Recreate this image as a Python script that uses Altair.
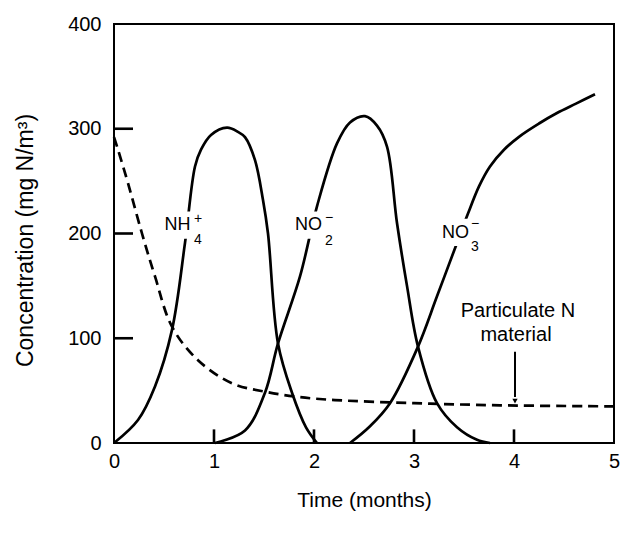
import altair as alt
import pandas as pd

# ---- data ----
nh4_t = [0, 0.24, 0.41, 0.58, 0.71, 0.81, 0.87, 0.97, 1.13, 1.24, 1.31, 1.41, 1.49, 1.54, 1.64, 1.78, 1.92, 2.03]
nh4_c = [0, 22, 54, 108, 191, 264, 280, 294, 301, 297, 292, 270, 232, 200, 95, 48, 15, 0]

no2_t = [1.01, 1.31, 1.51, 1.64, 1.86, 2.03, 2.23, 2.36, 2.51, 2.63, 2.73, 2.83, 2.93, 3.04, 3.23, 3.43, 3.63, 3.76]
no2_c = [0, 12, 48, 95, 159, 226, 286, 306, 312, 303, 283, 210, 150, 92, 38, 15, 3, 0]

no3_t = [2.36, 2.56, 2.76, 3.04, 3.23, 3.43, 3.54, 3.65, 3.76, 3.9, 4.06, 4.25, 4.43, 4.62, 4.81]
no3_c = [0, 16, 38, 92, 140, 191, 219, 245, 264, 280, 293, 305, 315, 324, 333]

part_t = [0.0, 0.04, 0.14, 0.28, 0.41, 0.58, 0.84, 1.18, 1.51, 1.84, 2.21, 3.0, 3.86, 5.0]
part_c = [292, 280, 248, 200, 159, 111, 79, 57, 49, 44, 41, 38, 36, 35]

x_ticks = [0, 1, 2, 3, 4, 5]
y_ticks = [0, 100, 200, 300, 400]
inner_x_ticks = [1, 2, 3, 4]
inner_y_ticks = [100, 200, 300]
x_tick_len = 0.19    # in months
y_tick_len = 13      # in mg N/m3

# species labels: main text, superscript, subscript
lab_text = ["NH", "NO", "NO"]
lab_t = [0.505, 1.81, 3.28]
lab_c = [203, 203, 196]
sup_text = ["+", "\u2212", "\u2212"]
sub_text = ["4", "2", "3"]
script_t = [0.80, 2.11, 3.57]
sup_c = [210, 211, 205]
sub_c = [190, 189, 183]

note_lines = ["Particulate N", "material"]
note_t = [4.04, 4.02]
note_c = [120, 97]
arrow_t = [4.01]
arrow_top = [87]
arrow_bottom = [44]
arrow_head = [40]

FONT = "Liberation Sans"

# inward tick marks as two-point segments
tick_rows = []
for v in inner_x_ticks:
    tick_rows += [{"t": float(v), "c": 0.5, "s": f"tx{v}", "w": 2.6},
                  {"t": float(v), "c": float(y_tick_len), "s": f"tx{v}", "w": 2.6}]
for v in inner_y_ticks:
    tick_rows += [{"t": 0.01, "c": float(v), "s": f"ty{v}", "w": 2.6},
                  {"t": x_tick_len, "c": float(v), "s": f"ty{v}", "w": 2.6}]

solid_df = pd.concat([
    pd.DataFrame({"t": nh4_t, "c": nh4_c, "s": "NH4", "w": 2.7}),
    pd.DataFrame({"t": no2_t, "c": no2_c, "s": "NO2", "w": 2.7}),
    pd.DataFrame({"t": no3_t, "c": no3_c, "s": "NO3", "w": 2.7}),
    pd.DataFrame(tick_rows),
], ignore_index=True)
part_df = pd.DataFrame({"t": part_t, "c": part_c})

xs = alt.Scale(domain=[0, 5], nice=False, zero=False)
ys = alt.Scale(domain=[0, 400], nice=False)

W, H = 500, 419

x_axis = alt.Axis(values=x_ticks, format="d", title="Time (months)", labelFontSize=20, labelPadding=8,
                  labelFlush=False, titleFontSize=21, titleFontWeight="normal", titleX=W / 2, titleY=57,
                  titleBaseline="middle", titleAlign="center")
y_axis = alt.Axis(values=y_ticks, format="d", title="Concentration (mg N/m\u00b3)", labelFontSize=20,
                  labelPadding=13, labelFlush=False, titleFontSize=23, titleFontWeight="normal",
                  titleX=-89, titleY=216, titleAngle=270, titleBaseline="middle", titleAlign="center")

solid = alt.Chart(solid_df).mark_line(color="black", interpolate="catmull-rom").encode(
    x=alt.X("t:Q", scale=xs, axis=x_axis),
    y=alt.Y("c:Q", scale=ys, axis=y_axis),
    detail="s:N",
    strokeWidth=alt.StrokeWidth("w:Q", scale=None, legend=None),
)

dashed = alt.Chart(part_df).mark_line(color="black", strokeWidth=2.7, strokeDash=[10, 6],
                                      interpolate="catmull-rom").encode(
    x=alt.X("t:Q", scale=xs), y=alt.Y("c:Q", scale=ys)
)

# white patches where the curves are broken by the labels
box_df = pd.DataFrame({
    "t0": [t - 0.01 for t in lab_t],
    "t1": [t + 0.07 for t in script_t],
    "c0": [c - 8 for c in lab_c],
    "c1": [c + 18 for c in lab_c],
})
boxes = alt.Chart(box_df).mark_rect(color="white").encode(
    x=alt.X("t0:Q", scale=xs), x2="t1:Q", y=alt.Y("c0:Q", scale=ys), y2="c1:Q"
)

lab_df = pd.DataFrame({"txt": lab_text, "t": lab_t, "c": lab_c})
labels = alt.Chart(lab_df).mark_text(font=FONT, fontSize=18, align="left", baseline="alphabetic",
                                     color="black").encode(
    x=alt.X("t:Q", scale=xs), y=alt.Y("c:Q", scale=ys), text="txt:N"
)
sup_df = pd.DataFrame({"txt": sup_text, "t": script_t, "c": sup_c})
sups = alt.Chart(sup_df).mark_text(font=FONT, fontSize=14, align="left", baseline="alphabetic",
                                   color="black").encode(
    x=alt.X("t:Q", scale=xs), y=alt.Y("c:Q", scale=ys), text="txt:N"
)
sub_df = pd.DataFrame({"txt": sub_text, "t": script_t, "c": sub_c})
subs = alt.Chart(sub_df).mark_text(font=FONT, fontSize=14, align="left", baseline="alphabetic",
                                   color="black").encode(
    x=alt.X("t:Q", scale=xs), y=alt.Y("c:Q", scale=ys), text="txt:N"
)

note_df = pd.DataFrame({"txt": note_lines, "t": note_t, "c": note_c})
note = alt.Chart(note_df).mark_text(font=FONT, fontSize=20, align="center", baseline="alphabetic",
                                    color="black").encode(
    x=alt.X("t:Q", scale=xs), y=alt.Y("c:Q", scale=ys), text="txt:N"
)
arrow_df = pd.DataFrame({"t": arrow_t, "c": arrow_top, "c2": arrow_bottom, "h": arrow_head})
arrow = alt.Chart(arrow_df).mark_rule(color="black", strokeWidth=2).encode(
    x=alt.X("t:Q", scale=xs), y=alt.Y("c:Q", scale=ys), y2="c2:Q"
)
head = alt.Chart(arrow_df).mark_point(shape="triangle-down", filled=True, color="black", size=28,
                                      opacity=1).encode(
    x=alt.X("t:Q", scale=xs), y=alt.Y("h:Q", scale=ys)
)

chart = alt.layer(solid, dashed, boxes, labels, sups, subs, note, arrow, head).properties(
    width=W, height=H,
    autosize=alt.AutoSizeParams(type="none"),
    padding={"left": 106, "top": 16, "right": 8, "bottom": 82},
    background="white",
).configure_view(stroke="black", strokeWidth=2).configure_axis(
    domain=False, ticks=False, grid=False, labelFont=FONT, titleFont=FONT,
    labelColor="black", titleColor="black",
)

chart.save("out.html", embed_options={"renderer": "svg", "actions": False})
